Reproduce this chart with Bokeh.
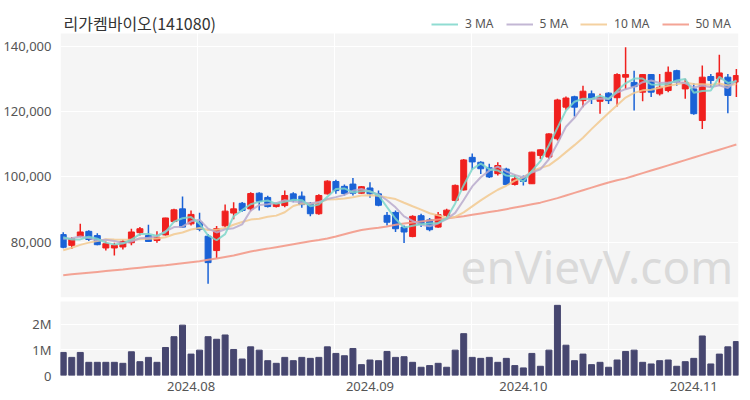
import pandas as pd
from bokeh.plotting import figure
from bokeh.models import (ColumnDataSource, Range1d, FixedTicker, NumeralTickFormatter,
                          Legend, LegendItem, Label, BoxAnnotation)
from bokeh.layouts import column
from bokeh.embed import file_html
from bokeh.resources import INLINE

# ---- data (daily, 2024-07-11 .. 2024-11-08) ----
open_ = [82300, 79000, 81800, 83300, 82000, 78200, 78200, 78500, 79800, 82900,
         82000, 80500, 82200, 86300, 90200, 85600, 86100, 81800, 77400, 85000,
         88900, 91900, 90200, 95000, 93700, 90900, 91200, 94800, 94100, 91900,
         88700, 94800, 98600, 97100, 97800, 95000, 96600, 94800, 88200, 89100,
         84600, 81700, 88100, 86800, 84600, 88200, 92800, 96000, 106000, 104500,
         102800, 101000, 102400, 97700, 99800, 97900, 106600, 106100, 111700, 121400,
         124600, 123400, 125500, 123200, 125700, 124300, 130600, 129000, 126000, 131400,
         125500, 126500, 132600, 127000, 127000, 117300, 130800, 130100, 130600, 129100]
high = [83000, 81500, 85600, 83600, 82700, 80200, 79800, 80700, 84100, 84600,
        85300, 83300, 87500, 90200, 94000, 89700, 89000, 82500, 84900, 91500,
        92200, 92300, 95300, 95300, 94200, 92100, 95800, 95300, 95500, 92300,
        94700, 99000, 99100, 97700, 99700, 97200, 98400, 95800, 89200, 89700,
        85100, 88200, 88700, 87400, 89200, 90200, 97700, 105500, 107200, 104800,
        104000, 104500, 102800, 100700, 100400, 107700, 108500, 113400, 124000, 124700,
        124900, 128000, 126500, 125500, 126000, 131800, 139800, 132600, 131600, 131600,
        131600, 133900, 132900, 130100, 128700, 134200, 131600, 137500, 131600, 133100]
low = [78100, 77900, 81500, 80300, 79000, 77400, 75900, 77700, 79000, 82000,
       80000, 79800, 82000, 86100, 84300, 85100, 83300, 67200, 75100, 84500,
       87000, 89300, 89500, 89700, 90600, 90600, 90700, 92200, 90500, 87900,
       88400, 94600, 94800, 94300, 94300, 94800, 93600, 91000, 85100, 83100,
       79700, 81500, 84600, 83300, 84400, 87700, 92500, 95800, 102300, 100900,
       99700, 100400, 97500, 97400, 97400, 97800, 105500, 105500, 111200, 120600,
       118500, 121400, 122400, 119400, 122400, 121600, 127000, 120400, 123200, 124500,
       125000, 126000, 128000, 124000, 119100, 114700, 127500, 128000, 119500, 124500]
close = [78400, 81000, 83100, 80800, 79200, 79500, 79000, 80200, 83100, 84100,
         80200, 81500, 87400, 89900, 84600, 88500, 83900, 73700, 84100, 89500,
         90200, 89700, 94900, 92500, 90900, 91800, 94300, 92800, 91500, 88700,
         94300, 98700, 95800, 94900, 95000, 97000, 94800, 91300, 86100, 84100,
         83100, 87900, 85400, 83800, 88400, 89800, 97400, 105200, 104600, 102500,
         100000, 103500, 97700, 99400, 98600, 107600, 108300, 113200, 123600, 124200,
         121400, 126300, 124000, 124400, 123400, 131400, 131400, 127700, 131400, 126000,
         127500, 132100, 129100, 129000, 119400, 130600, 129600, 131900, 125000, 131100]
volume = [897000, 705000, 897000, 513000, 513000, 513000, 513000, 474000, 923000, 538000,
          705000, 513000, 1090000, 1510000, 1960000, 833000, 987000, 1510000, 1410000, 1577000,
          1013000, 641000, 1115000, 987000, 577000, 474000, 705000, 577000, 705000, 667000,
          705000, 1115000, 859000, 769000, 1051000, 423000, 603000, 577000, 936000, 705000,
          731000, 513000, 321000, 385000, 474000, 321000, 987000, 1628000, 705000, 667000,
          705000, 513000, 667000, 385000, 295000, 859000, 359000, 987000, 2730000, 1179000,
          577000, 833000, 423000, 513000, 321000, 603000, 936000, 987000, 513000, 449000,
          577000, 603000, 359000, 538000, 667000, 1538000, 449000, 833000, 1115000, 1320000]
# closes of the days before the first visible one, as implied by the MA lines at the left edge
prior_close = [73500, 74200, 73800, 74600, 73900, 80000, 80500, 83200, 82900]
# 50-day moving average
ma50 = [69800, 70100, 70350, 70600, 70850, 71100, 71350, 71600, 71900, 72150,
        72400, 72650, 72900, 73200, 73500, 73800, 74100, 74550, 75000, 75450,
        75900, 76500, 77100, 77600, 78000, 78450, 78900, 79350, 79800, 80250,
        80650, 81100, 81700, 82400, 83100, 83700, 84100, 84400, 84800, 85300,
        85700, 86000, 86300, 86600, 86900, 87200, 87600, 87950, 88400, 88800,
        89200, 89600, 90100, 90600, 91100, 91600, 92100, 92800, 93500, 94300,
        95100, 95900, 96700, 97500, 98300, 99000, 99550, 100350, 101150, 101950,
        102750, 103550, 104350, 105150, 105950, 106750, 107550, 108350, 109150, 109950]
month_ticks = [15, 36, 54, 74]
month_labels = ["2024.08", "2024.09", "2024.10", "2024.11"]
price_ticks = [80000, 100000, 120000, 140000]
vol_ticks = [0, 1000000, 2000000]
vol_labels = ["0", "1M", "2M"]
title_text = "리가켐바이오(141080)"

UP = "#f0201e"
DOWN = "#1a62d6"
C3, C5, C10, C50 = "#7dd6ca", "#b9aacd", "#f2c98f", "#f39a8a"
FONT = "Noto Sans"
PANEL = "#f5f5f5"

n = len(close)
xs = list(range(n))
allc = pd.Series(prior_close + close, dtype=float)
k = len(prior_close)
ma3 = allc.rolling(3).mean().tolist()[k:]
ma5 = allc.rolling(5).mean().tolist()[k:]
ma10 = allc.rolling(10).mean().tolist()[k:]

colors = [UP if c >= o else DOWN for o, c in zip(open_, close)]
src = ColumnDataSource(dict(
    x=xs, high=high, low=low,
    top=[max(o, c) for o, c in zip(open_, close)],
    bottom=[min(o, c) for o, c in zip(open_, close)],
    color=colors, volume=volume))

xr = Range1d(-0.32, 79.25)
grid_x = [15.75, 31.8, 47.9, 63.95]
price_lo, price_hi = 63000, 144000

# frame: header strip (title + legend) on white, price panel on light grey below it
main = figure(frame_width=678, frame_height=293, x_range=xr,
              y_range=Range1d(price_lo, 152900),
              output_backend="svg", toolbar_location=None, x_axis_location=None,
              min_border_left=60, min_border_right=4, min_border_top=4, min_border_bottom=3)
main.background_fill_color = "white"
main.border_fill_color = "white"
main.outline_line_color = None
main.add_layout(BoxAnnotation(bottom=price_lo, top=price_hi, fill_color=PANEL, fill_alpha=1,
                              line_color=None, level="image"))
main.xgrid.ticker = FixedTicker(ticks=grid_x)
main.xgrid.grid_line_color = "white"
main.ygrid.grid_line_color = "white"
main.yaxis.ticker = FixedTicker(ticks=price_ticks)
main.yaxis.formatter = NumeralTickFormatter(format="0,0")
for ax in [main.yaxis[0]]:
    ax.axis_line_color = None
    ax.major_tick_line_color = None
    ax.minor_tick_line_color = None
    ax.major_label_text_font = FONT
    ax.major_label_text_font_size = "13px"
    ax.major_label_text_color = "#555555"
    ax.major_label_standoff = 3

main.add_layout(Label(x=400, y=1, x_units="screen", y_units="screen", text="enVievV.com",
                      text_font=FONT, text_font_size="46px", text_color="#dadada",
                      text_baseline="bottom"))
main.add_layout(Label(x=3, y=275, x_units="screen", y_units="screen", text=title_text,
                      text_font="Noto Sans CJK KR", text_font_size="16px",
                      text_color="#333333", text_baseline="middle"))

main.segment(x0="x", y0="high", x1="x", y1="low", line_color="color", line_width=1.5, source=src)
main.vbar(x="x", width=0.7, top="top", bottom="bottom", fill_color="color",
          line_color="color", source=src)

r50 = main.line(xs, ma50, line_color=C50, line_width=2, line_alpha=0.9)
r10 = main.line(xs, ma10, line_color=C10, line_width=2, line_alpha=0.85)
r5 = main.line(xs, ma5, line_color=C5, line_width=2, line_alpha=0.85)
r3 = main.line(xs, ma3, line_color=C3, line_width=2, line_alpha=0.85)

legend = Legend(items=[LegendItem(label="3 MA", renderers=[r3]),
                       LegendItem(label="5 MA", renderers=[r5]),
                       LegendItem(label="10 MA", renderers=[r10]),
                       LegendItem(label="50 MA", renderers=[r50])],
                orientation="horizontal", location=(371, 265),
                glyph_width=27, glyph_height=14, label_height=14, label_standoff=7,
                spacing=12, padding=0, margin=0, border_line_color=None,
                background_fill_alpha=0, label_text_font=FONT,
                label_text_font_size="12px", label_text_color="#555555")
main.add_layout(legend)

vol = figure(frame_width=678, frame_height=74, x_range=xr, y_range=Range1d(0, 2880000),
             output_backend="svg", toolbar_location=None,
             min_border_left=60, min_border_right=4, min_border_top=1, min_border_bottom=20)
vol.background_fill_color = PANEL
vol.border_fill_color = "white"
vol.outline_line_color = None
vol.xgrid.ticker = FixedTicker(ticks=grid_x)
vol.xgrid.grid_line_color = "white"
vol.ygrid.grid_line_color = "white"
vol.yaxis.ticker = FixedTicker(ticks=vol_ticks)
vol.yaxis.major_label_overrides = dict(zip(vol_ticks, vol_labels))
vol.xaxis.ticker = FixedTicker(ticks=month_ticks)
vol.xaxis.major_label_overrides = dict(zip(month_ticks, month_labels))
for ax in [vol.yaxis[0], vol.xaxis[0]]:
    ax.axis_line_color = None
    ax.major_tick_line_color = None
    ax.minor_tick_line_color = None
    ax.major_label_text_font = FONT
    ax.major_label_text_font_size = "13px"
    ax.major_label_text_color = "#555555"
vol.yaxis[0].major_label_standoff = 3
vol.xaxis[0].major_label_standoff = 0
vol.vbar(x="x", width=0.7, top="volume", bottom=0, fill_color="#46466f",
         line_color="#46466f", source=src)

layout = column(main, vol, spacing=0)
open("out.html", "w").write(file_html(layout, INLINE))
